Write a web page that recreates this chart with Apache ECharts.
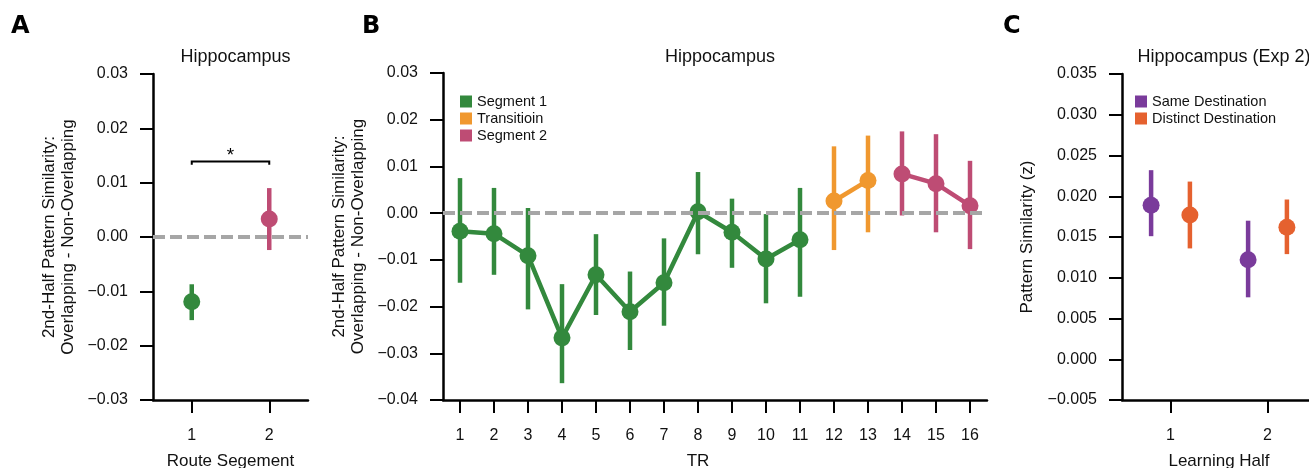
<!DOCTYPE html>
<html>
<head>
<meta charset="utf-8">
<script src="https://cdn.jsdelivr.net/npm/echarts@6/dist/echarts.min.js"></script>
<style>
  html, body { margin: 0; padding: 0; background: #fff; }
  #chart { width: 1309px; height: 468px; }
</style>
</head>
<body>
<div id="chart"></div>
<script>
// ---- panel A: route segment ----
const routeSegments = ['1', '2'];
const routeMean = [-0.0119, 0.0033];
const routeLow = [-0.0153, -0.0024];
const routeHigh = [-0.0087, 0.0090];
const bracketTop = 0.0139;
const bracketTip = 0.0133;
const starLevel = 0.0149;

// ---- panel B: TR time course ----
const trLabels = ['1', '2', '3', '4', '5', '6', '7', '8', '9', '10', '11', '12', '13', '14', '15', '16'];
const trMean = [-0.0039, -0.0044, -0.0091, -0.0267, -0.0132, -0.0211, -0.0149, 0.0003,
                -0.0041, -0.0098, -0.0057, 0.0026, 0.0070, 0.0084, 0.0063, 0.0016];
const trLow = [-0.0149, -0.0132, -0.0206, -0.0364, -0.0218, -0.0293, -0.0241, -0.0088,
               -0.0117, -0.0193, -0.0179, -0.0079, -0.0041, -0.0005, -0.0041, -0.0077];
const trHigh = [0.0075, 0.0054, 0.0011, -0.0152, -0.0045, -0.0125, -0.0054, 0.0088,
                0.0031, -0.0002, 0.0054, 0.0143, 0.0166, 0.0175, 0.0169, 0.0112];
const segmentNames = ['Segment 1', 'Transitioin', 'Segment 2'];
const segmentFirst = [0, 11, 13];
const segmentLast = [10, 12, 15];

// ---- panel C: learning half ----
const halves = ['1', '2'];
const conditionNames = ['Same Destination', 'Distinct Destination'];
const sameMean = [0.0189, 0.0122];
const sameLow = [0.0151, 0.0076];
const sameHigh = [0.0232, 0.0170];
const distinctMean = [0.0177, 0.0162];
const distinctLow = [0.0136, 0.0129];
const distinctHigh = [0.0218, 0.0196];

const GREEN = '#33893d', ORANGE = '#f0982f', PINK = '#be4c74';
const PURPLE = '#7a3b9b', RED = '#e5612f';
const segColors = [GREEN, ORANGE, PINK];
const routeColors = [GREEN, PINK];
const condColors = [PURPLE, RED];
const FONT = "'Liberation Sans', Arial, sans-serif";
const DODGE = 0.2;

const chart = echarts.init(document.getElementById('chart'));

function minusFmt(digits) {
  return v => v.toFixed(digits).replace('-', '\u2212');
}

function yAxisCfg(grid, min, max, step, digits, name, gap) {
  return {
    type: 'value', gridIndex: grid, min: min, max: max, interval: step,
    name: name, nameLocation: 'middle', nameGap: gap,
    nameTextStyle: { fontFamily: FONT, fontSize: 17, color: '#111', lineHeight: 19 },
    axisLine: { show: true, onZero: false, lineStyle: { color: '#000', width: 2.5 } },
    axisTick: { show: true, length: 13, lineStyle: { color: '#000', width: 2 } },
    axisLabel: { fontFamily: FONT, fontSize: 16, color: '#111', margin: 25, formatter: minusFmt(digits) },
    splitLine: { show: false }
  };
}

function xCatCfg(grid, cats, name, pad) {
  return {
    type: 'category', gridIndex: grid, data: cats, boundaryGap: true,
    name: name, nameLocation: 'middle', nameGap: 53,
    nameTextStyle: { fontFamily: FONT, fontSize: 17, color: '#111', padding: pad },
    axisLine: { show: true, onZero: false, lineStyle: { color: '#000', width: 2.5 } },
    axisTick: { show: true, alignWithLabel: true, length: 13, lineStyle: { color: '#000', width: 2 } },
    axisLabel: { fontFamily: FONT, fontSize: 16, color: '#111', margin: 28, interval: 0 },
    splitLine: { show: false }
  };
}

function hiddenX(grid) {
  return { type: 'value', gridIndex: grid, min: -0.5, max: 1.5, show: false,
           axisLine: { onZero: false } };
}

function errorSeries(name, xi, yi, data, colors) {
  return {
    type: 'custom', name: name, xAxisIndex: xi, yAxisIndex: yi, silent: true, z: 2,
    encode: { x: 0, y: [1, 2] },
    data: data,
    renderItem: function (params, api) {
      const a = api.coord([api.value(0), api.value(1)]);
      const b = api.coord([api.value(0), api.value(2)]);
      return {
        type: 'line',
        shape: { x1: a[0], y1: a[1], x2: b[0], y2: b[1] },
        style: { stroke: colors[params.dataIndex % colors.length], lineWidth: 4.5 }
      };
    }
  };
}

function zeroLine(xi, yi) {
  return {
    type: 'line', name: 'zero' + xi, xAxisIndex: xi, yAxisIndex: yi, z: 1,
    data: [[0, 0]], showSymbol: false, silent: true,
    markLine: {
      silent: true, symbol: 'none', label: { show: false },
      lineStyle: { color: '#a6a6a6', type: [12, 5], width: 4 },
      data: [{ yAxis: 0 }]
    }
  };
}

const series = [];

// panel A
series.push(zeroLine(0, 0));
series.push(errorSeries('routeErr', 3, 0, routeMean.map((m, i) => [i, routeLow[i], routeHigh[i]]), routeColors));
series.push({
  type: 'scatter', name: 'route', xAxisIndex: 3, yAxisIndex: 0, z: 3, symbolSize: 17,
  data: routeMean.map((m, i) => ({ value: [i, m], itemStyle: { color: routeColors[i], opacity: 1 } }))
});
series.push({
  type: 'custom', name: 'bracket', xAxisIndex: 3, yAxisIndex: 0, silent: true, z: 4,
  data: [[0, 1, bracketTop, bracketTip, starLevel]],
  renderItem: function (params, api) {
    const p0 = api.coord([api.value(0), api.value(3)]);
    const p1 = api.coord([api.value(0), api.value(2)]);
    const p2 = api.coord([api.value(1), api.value(2)]);
    const p3 = api.coord([api.value(1), api.value(3)]);
    const s = api.coord([(api.value(0) + api.value(1)) / 2, api.value(4)]);
    return {
      type: 'group',
      children: [
        { type: 'polyline', shape: { points: [p0, p1, p2, p3] }, style: { stroke: '#000', lineWidth: 2, fill: null } },
        { type: 'text', x: s[0], y: s[1], style: { text: '*', font: '19px ' + FONT, fill: '#000', align: 'center', verticalAlign: 'middle' } }
      ]
    };
  }
});

// panel B
series.push(zeroLine(1, 1));
segmentNames.forEach((nm, k) => {
  const idx = [];
  for (let i = segmentFirst[k]; i <= segmentLast[k]; i++) idx.push(i);
  series.push(errorSeries(nm + ' err', 1, 1, idx.map(i => [i, trLow[i], trHigh[i]]), [segColors[k]]));
  series.push({
    type: 'line', name: nm, xAxisIndex: 1, yAxisIndex: 1, z: 3,
    symbol: 'circle', symbolSize: 17, showSymbol: true,
    itemStyle: { color: segColors[k], opacity: 1 },
    lineStyle: { color: segColors[k], width: 4.5 },
    emphasis: { disabled: true },
    data: idx.map(i => [i, trMean[i]])
  });
});

// panel C
const condMeans = [sameMean, distinctMean];
const condLows = [sameLow, distinctLow];
const condHighs = [sameHigh, distinctHigh];
conditionNames.forEach((nm, k) => {
  const off = k === 0 ? -DODGE : DODGE;
  series.push(errorSeries(nm + ' err', 4, 2, halves.map((h, i) => [i + off, condLows[k][i], condHighs[k][i]]), [condColors[k]]));
  series.push({
    type: 'scatter', name: nm, xAxisIndex: 4, yAxisIndex: 2, z: 3, symbolSize: 17,
    itemStyle: { color: condColors[k], opacity: 1 },
    data: halves.map((h, i) => [i + off, condMeans[k][i]])
  });
});

const legendCommon = {
  orient: 'vertical', icon: 'rect', itemWidth: 12, itemHeight: 12, itemGap: 2,
  textStyle: { fontFamily: FONT, fontSize: 14.5, color: '#111' },
  selectedMode: false
};

const titleStyle = { fontFamily: FONT, fontSize: 18, fontWeight: 'normal', color: '#111' };
const letterFont = "bold 24px 'DejaVu Sans', sans-serif";

chart.setOption({
  animation: false,
  backgroundColor: '#fff',
  title: [
    { text: 'Hippocampus', left: 230.5, top: 43, textAlign: 'center', textStyle: titleStyle },
    { text: 'Hippocampus', left: 715, top: 43, textAlign: 'center', textStyle: titleStyle },
    { text: 'Hippocampus (Exp 2)', left: 1219, top: 43, textAlign: 'center', textStyle: titleStyle }
  ],
  graphic: [
    { type: 'text', left: 11, top: 15, style: { text: 'A', font: letterFont, fill: '#000' } },
    { type: 'text', left: 362, top: 15, style: { text: 'B', font: letterFont, fill: '#000' } },
    { type: 'text', left: 1003, top: 15, style: { text: 'C', font: letterFont, fill: '#000' } }
  ],
  legend: [
    Object.assign({ left: 455, top: 89, data: segmentNames }, legendCommon),
    Object.assign({ left: 1130, top: 89, data: conditionNames }, legendCommon)
  ],
  grid: [
    { left: 153, top: 74, width: 155, height: 326, outerBoundsMode: 'none' },
    { left: 443, top: 73, width: 544, height: 327, outerBoundsMode: 'none' },
    { left: 1122, top: 74, width: 194, height: 326, outerBoundsMode: 'none' }
  ],
  xAxis: [
    xCatCfg(0, routeSegments, 'Route Segement', [0, 0, 0, 0]),
    xCatCfg(1, trLabels, 'TR', [0, 34, 0, 0]),
    xCatCfg(2, halves, 'Learning Half', [0, 0, 0, 0]),
    hiddenX(0),
    hiddenX(2)
  ],
  yAxis: [
    yAxisCfg(0, -0.03, 0.03, 0.01, 2, '2nd-Half Pattern Similarity:\nOverlapping - Non-Overlapping', 75),
    yAxisCfg(1, -0.04, 0.03, 0.01, 2, '2nd-Half Pattern Similarity:\nOverlapping - Non-Overlapping', 75),
    yAxisCfg(2, -0.005, 0.035, 0.005, 3, 'Pattern Similarity (z)', 85)
  ],
  series: series
});
</script>
</body>
</html>
